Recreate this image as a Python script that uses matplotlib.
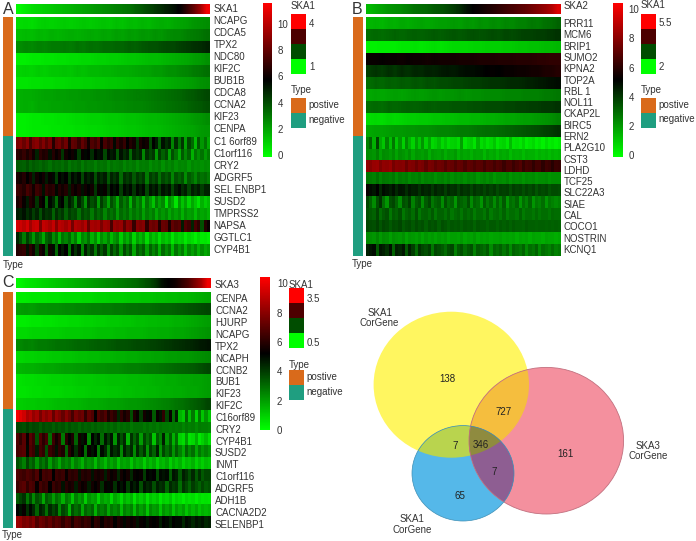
import numpy as np
import matplotlib
matplotlib.use('Agg')
import matplotlib.pyplot as plt
from matplotlib.colors import LinearSegmentedColormap, ListedColormap, Normalize
from matplotlib.cm import ScalarMappable
from matplotlib.patches import Ellipse, Polygon, Rectangle

plt.rcParams['font.family'] = ['Liberation Sans', 'DejaVu Sans']

W, H = 696, 541

# *** Panel A data ***
annot_a = [0.75, 0.85, 0.95, 1.0, 1.05, 1.1, 1.15, 1.2, 1.25, 1.3, 1.35, 1.4, 1.45, 1.5, 1.55,
	1.6, 1.65, 1.7, 1.8, 1.9, 2.0, 2.1, 2.2, 2.3, 2.4, 2.55, 2.85, 3.2, 3.6, 4.2]
genes_a = ['NCAPG', 'CDCA5', 'TPX2', 'NDC80', 'KIF2C', 'BUB1B', 'CDCA8', 'CCNA2', 'KIF23', 'CENPA',
	'C1 6orf89', 'C1orf116', 'CRY2', 'ADGRF5', 'SEL ENBP1', 'SUSD2', 'TMPRSS2', 'NAPSA', 'GGTLC1', 'CYP4B1']
heat_a = [
	[.8, .9, .8, 1.0, 1.1, 1.0, 1.1, 1.2, 1.1, 1.2, 1.3, 1.2, 1.3, 1.4, 1.3, 1.5, 1.4, 1.6, 1.5, 1.7, 1.6, 1.8, 1.9, 1.8, 2.0, 2.1, 2.2, 2.4, 2.5, 2.6],
	[1.5, 1.6, 1.5, 1.7, 1.6, 1.8, 1.7, 1.8, 1.9, 1.8, 1.9, 2.0, 1.9, 2.1, 2.0, 2.2, 2.1, 2.3, 2.2, 2.4, 2.3, 2.5, 2.4, 2.6, 2.7, 2.7, 2.9, 3.0, 3.1, 3.3],
	[2.6, 2.8, 2.7, 2.9, 2.8, 3.0, 3.0, 3.1, 3.0, 3.2, 3.1, 3.3, 3.2, 3.4, 3.4, 3.5, 3.5, 3.7, 3.6, 3.8, 3.9, 3.9, 4.1, 4.2, 4.2, 4.4, 4.5, 4.7, 4.8, 5.0],
	[.4, .4, .5, .5, .6, .6, .7, .7, .8, .8, .9, .9, 1.0, 1.0, 1.1, 1.1, 1.2, 1.3, 1.3, 1.4, 1.5, 1.5, 1.6, 1.7, 1.8, 1.9, 2.0, 2.2, 2.3, 2.5],
	[1.0, 1.1, 1.0, 1.2, 1.1, 1.3, 1.3, 1.4, 1.3, 1.5, 1.4, 1.6, 1.6, 1.7, 1.7, 1.8, 1.9, 1.9, 2.0, 2.1, 2.1, 2.3, 2.3, 2.5, 2.5, 2.7, 2.8, 3.0, 3.1, 3.3],
	[.6, .6, .7, .7, .8, .8, .9, .9, 1.0, 1.0, 1.1, 1.1, 1.2, 1.2, 1.3, 1.3, 1.4, 1.5, 1.5, 1.6, 1.7, 1.7, 1.8, 1.9, 2.0, 2.1, 2.2, 2.3, 2.5, 2.6],
	[1.8, 1.9, 1.9, 2.0, 2.1, 2.1, 2.2, 2.2, 2.3, 2.3, 2.4, 2.4, 2.5, 2.5, 2.6, 2.7, 2.7, 2.8, 2.9, 2.9, 3.0, 3.1, 3.2, 3.3, 3.4, 3.5, 3.7, 3.8, 4.0, 4.2],
	[1.8, 1.9, 1.8, 2.0, 2.0, 2.1, 2.1, 2.2, 2.2, 2.3, 2.3, 2.4, 2.4, 2.5, 2.5, 2.6, 2.6, 2.7, 2.8, 2.8, 2.9, 3.0, 3.1, 3.2, 3.3, 3.4, 3.5, 3.7, 3.8, 4.0],
	[.4, .4, .5, .5, .6, .6, .7, .7, .8, .9, .9, 1.0, 1.0, 1.1, 1.2, 1.2, 1.3, 1.4, 1.4, 1.5, 1.6, 1.6, 1.7, 1.8, 1.9, 2.0, 2.1, 2.3, 2.4, 2.6],
	[.4, .4, .5, .5, .5, .6, .6, .7, .7, .8, .8, .9, .9, 1.0, 1.1, 1.1, 1.2, 1.3, 1.3, 1.4, 1.5, 1.5, 1.6, 1.7, 1.8, 1.9, 2.0, 2.1, 2.3, 2.4],
	[8.6, 8.8, 8.2, 8.9, 7.4, 8.6, 8.9, 8.0, 8.7, 7.8, 8.5, 6.6, 8.2, 8.4, 7.6, 8.3, 6.4, 8.0, 7.8, 7.0, 8.0, 7.4, 6.2, 7.6, 7.2, 7.8, 6.0, 7.4, 6.8, 7.2, 5.6, 7.0, 6.4, 7.0, 5.8, 6.6, 6.2, 4.6, 6.4, 6.0, 6.2, 4.2, 5.8, 5.2, 3.6, 5.4, 4.8, 5.2, 2.8, 4.8, 3.2, 4.6, 2.2, 4.2, 3.4, 1.6, 3.8, 2.4, 3.2, 2.0],
	[6.8, 6.6, 7.0, 6.4, 6.9, 6.2, 5.0, 6.8, 6.4, 6.6, 5.4, 6.6, 6.0, 6.4, 4.6, 6.2, 5.8, 6.2, 5.6, 4.4, 6.0, 5.6, 5.8, 4.8, 5.8, 5.4, 5.6, 4.2, 5.6, 5.2, 5.4, 3.8, 5.4, 4.8, 5.2, 3.4, 5.0, 4.6, 5.0, 2.8, 4.8, 4.2, 4.6, 2.4, 4.4, 3.6, 4.2, 2.2, 4.0, 3.2, 2.0, 3.8, 2.8, 3.6, 1.8, 3.2, 2.6, 3.2, 2.4, 3.0],
	[3.8, 3.7, 3.6, 3.9, 3.5, 3.8, 3.6, 3.4, 3.7, 3.5, 3.2, 3.6, 3.4, 3.5, 3.3, 3.6, 3.1, 3.4, 3.3, 3.5, 3.0, 3.4, 3.2, 3.3, 2.9, 3.3, 3.1, 3.2, 2.8, 3.2, 3.0, 3.1, 3.2, 2.8, 3.1, 2.9, 3.1, 2.7, 3.0, 2.9, 3.0, 2.6, 2.9, 2.8, 3.0, 2.5, 2.9, 2.7, 2.9, 2.5, 2.8, 2.7, 2.8, 2.4, 2.8, 2.6, 2.7, 2.5, 2.7, 2.6],
	[6.4, 6.2, 6.6, 5.8, 6.4, 5.0, 6.2, 5.8, 6.2, 5.2, 6.0, 5.6, 4.4, 5.8, 5.4, 5.8, 4.6, 5.6, 5.2, 5.6, 4.2, 5.4, 5.0, 5.4, 4.0, 5.2, 4.8, 5.2, 3.8, 5.0, 4.6, 5.0, 3.4, 4.8, 4.4, 4.8, 3.8, 4.6, 4.2, 4.6, 3.0, 4.4, 4.0, 4.4, 3.2, 4.2, 3.8, 4.2, 2.8, 4.0, 3.6, 4.0, 2.6, 3.8, 3.4, 2.8, 3.6, 3.2, 3.4, 3.0],
	[7.2, 7.0, 6.6, 7.4, 7.0, 6.2, 7.2, 6.8, 5.4, 7.0, 6.6, 6.8, 5.6, 6.6, 6.2, 6.6, 5.2, 6.4, 6.0, 6.4, 5.4, 6.2, 5.8, 6.2, 4.6, 6.0, 5.6, 6.0, 4.8, 5.8, 5.4, 5.8, 4.4, 5.6, 5.2, 5.6, 4.6, 5.6, 5.2, 5.6, 4.2, 5.4, 5.0, 5.4, 4.4, 5.4, 5.0, 5.4, 4.2, 5.2, 5.6, 4.8, 5.2, 4.2, 5.2, 4.8, 5.2, 4.4, 5.0, 5.0],
	[6.4, 6.8, 6.0, 5.2, 6.6, 6.2, 4.6, 6.2, 5.8, 3.6, 5.6, 5.0, 3.4, 5.4, 5.8, 4.0, 5.2, 4.6, 3.0, 5.0, 4.2, 2.6, 4.8, 4.0, 4.4, 2.4, 4.4, 3.6, 2.2, 4.0, 3.4, 2.0, 3.8, 3.0, 3.6, 1.8, 3.6, 2.6, 3.2, 1.6, 3.2, 2.4, 1.4, 3.0, 2.2, 2.8, .8, 2.6, 2.0, .6, 2.4, 1.4, 2.2, 1.0, 2.0, 1.4, .7, 1.8, 1.2, 1.6],
	[5.2, 5.0, 5.4, 4.8, 5.2, 4.4, 5.0, 4.0, 5.0, 4.6, 4.8, 3.6, 4.8, 4.2, 4.6, 3.6, 4.4, 4.0, 4.2, 3.2, 4.2, 3.8, 4.0, 3.0, 3.9, 3.4, 3.8, 2.8, 3.6, 3.2, 3.6, 2.4, 3.4, 3.0, 3.4, 2.6, 3.2, 2.8, 3.2, 2.2, 3.0, 2.6, 3.0, 2.0, 2.8, 2.4, 2.8, 2.0, 2.6, 2.2, 2.6, 1.8, 2.6, 2.2, 2.4, 1.6, 2.4, 2.0, 2.2, 1.8],
	[10.6, 10.4, 10.0, 10.6, 9.4, 10.2, 10.4, 8.6, 10.2, 10.0, 9.6, 10.2, 8.8, 10.0, 9.8, 9.4, 10.0, 8.4, 9.8, 9.6, 9.2, 9.8, 8.2, 9.6, 9.4, 9.6, 8.6, 9.4, 9.2, 7.4, 9.2, 9.0, 9.2, 7.8, 9.0, 8.8, 7.0, 8.8, 8.6, 8.8, 6.8, 8.4, 8.2, 8.4, 6.6, 8.2, 8.0, 6.4, 8.0, 7.6, 7.8, 5.2, 7.6, 7.2, 5.0, 7.4, 6.8, 4.0, 6.6, 6.0],
	[5.0, 4.2, 3.0, 4.4, 3.6, 2.4, 3.8, 3.2, 2.0, 3.6, 4.0, 2.6, 3.4, 1.8, 3.2, 2.8, 3.4, 2.2, 3.0, 1.4, 2.8, 2.4, 3.2, 1.8, 2.6, 1.2, 2.6, 2.0, 2.8, 1.6, 2.4, 2.8, 1.2, 2.4, 1.8, 2.6, 1.0, 2.2, 1.6, 2.2, .8, 2.0, 1.4, 1.8, .8, 1.6, 1.2, 1.6, .6, 1.4, 1.0, 1.2, .5, 1.0, .8, .4, .9, .5, .6, .4],
	[6.6, 6.8, 7.0, 5.4, 6.8, 6.2, 4.4, 6.4, 6.0, 3.8, 6.2, 5.6, 3.4, 5.8, 5.2, 5.8, 3.2, 5.6, 4.6, 5.4, 2.8, 5.2, 4.0, 4.8, 3.0, 4.8, 3.8, 4.6, 2.6, 4.4, 3.4, 4.2, 2.4, 4.2, 3.2, 4.0, 2.0, 3.8, 3.2, 3.8, 2.2, 3.6, 2.8, 3.4, 1.8, 3.4, 2.6, 3.2, 1.6, 3.2, 2.4, 3.0, 1.6, 2.8, 2.2, 2.8, 1.8, 2.6, 2.0, 2.4],
]

# *** Panel B data ***
annot_b = [2.2, 2.3, 2.4, 2.5, 2.55, 2.6, 2.7, 2.8, 2.85, 2.9, 3.0, 3.05, 3.15, 3.25, 3.4, 3.6,
	3.75, 3.85, 3.95, 4.05, 4.15, 4.25, 4.35, 4.45, 4.55, 4.7, 4.85, 5.0, 5.2, 5.6]
genes_b = ['PRR11', 'MCM6', 'BRIP1', 'SUMO2', 'KPNA2', 'TOP2A', 'RBL 1', 'NOL11', 'CKAP2L', 'BIRC5', 'ERN2',
	'PLA2G10', 'CST3', 'LDHD', 'TCF25', 'SLC22A3', 'SIAE', 'CAL', 'COCO1', 'NOSTRIN', 'KCNQ1']
heat_b = [
	[1.5, 1.6, 1.5, 1.7, 1.6, 1.8, 1.7, 1.8, 1.9, 1.8, 1.9, 2.0, 2.0, 2.1, 2.0, 2.2, 2.1, 2.3, 2.2, 2.4, 2.3, 2.5, 2.4, 2.6, 2.6, 2.8, 2.7, 2.9, 3.0, 3.2],
	[3.0, 3.1, 3.0, 3.1, 3.2, 3.1, 3.2, 3.3, 3.2, 3.3, 3.4, 3.3, 3.4, 3.5, 3.4, 3.5, 3.6, 3.5, 3.6, 3.7, 3.6, 3.8, 3.7, 3.8, 3.9, 3.9, 4.0, 4.0, 4.1, 4.2],
	[.3, .3, .4, .4, .4, .5, .5, .6, .5, .6, .7, .6, .7, .8, .8, .8, .9, .9, 1.0, 1.0, 1.0, 1.1, 1.1, 1.2, 1.2, 1.3, 1.3, 1.4, 1.4, 1.5],
	[5.4, 5.4, 5.3, 5.4, 5.4, 5.5, 5.4, 5.5, 5.5, 5.6, 5.5, 5.6, 5.6, 5.6, 5.7, 5.7, 5.7, 5.8, 5.8, 5.8, 5.9, 5.9, 5.9, 6.0, 6.0, 6.0, 6.1, 6.1, 6.2, 6.2],
	[4.0, 4.2, 4.0, 4.3, 4.1, 4.4, 4.2, 4.5, 4.4, 4.6, 4.5, 4.7, 4.8, 4.7, 4.9, 5.0, 5.0, 5.1, 5.2, 5.3, 5.2, 5.4, 5.4, 5.5, 5.5, 5.6, 5.6, 5.8, 5.8, 6.0],
	[3.0, 3.2, 3.1, 3.3, 3.2, 3.4, 3.3, 3.5, 3.4, 3.6, 3.5, 3.7, 3.7, 3.8, 3.8, 3.9, 4.0, 4.0, 4.1, 4.2, 4.2, 4.3, 4.4, 4.4, 4.5, 4.6, 4.7, 4.8, 4.9, 5.0],
	[1.8, 1.9, 1.8, 1.9, 2.0, 1.9, 2.0, 2.1, 2.0, 2.1, 2.2, 2.1, 2.2, 2.2, 2.3, 2.2, 2.3, 2.3, 2.4, 2.4, 2.4, 2.5, 2.5, 2.5, 2.6, 2.6, 2.6, 2.7, 2.7, 2.8],
	[3.0, 3.1, 3.0, 3.2, 3.1, 3.2, 3.3, 3.2, 3.3, 3.4, 3.3, 3.4, 3.4, 3.5, 3.5, 3.5, 3.6, 3.6, 3.7, 3.7, 3.7, 3.8, 3.8, 3.9, 3.9, 4.0, 4.0, 4.1, 4.1, 4.2],
	[.7, .8, .7, .9, .8, .9, 1.0, 1.0, 1.1, 1.1, 1.2, 1.2, 1.3, 1.3, 1.4, 1.4, 1.5, 1.5, 1.6, 1.6, 1.7, 1.8, 1.8, 1.9, 2.0, 2.0, 2.1, 2.2, 2.3, 2.5],
	[1.8, 1.9, 1.9, 2.0, 2.1, 2.1, 2.2, 2.2, 2.3, 2.3, 2.4, 2.5, 2.5, 2.6, 2.7, 2.7, 2.8, 2.9, 3.0, 3.0, 3.1, 3.2, 3.3, 3.4, 3.5, 3.6, 3.7, 3.9, 4.0, 4.2],
	[2.6, 3.2, 1.6, 3.8, 1.8, 1.2, 2.6, 1.4, 2.8, 1.2, 2.2, 1.0, 2.4, 1.6, .9, 2.0, 1.2, 2.2, 1.0, 1.8, .8, 1.0, 1.4, .8, 1.2, .7, .9, 1.0, .7, 2.0, .6, .9, 1.1, .6, 1.6, .7, 1.0, .6, .8, 1.2, .5, .8, .9, .5, 1.4, .6, .7, .5, .9, .4, .6, .8, .4, .6, .3, .7, .4, .5, .3, .5],
	[2.4, 2.3, 2.2, 2.6, 2.0, 2.4, 2.3, 2.1, 2.4, 1.9, 2.3, 2.2, 2.0, 2.3, 1.8, 2.2, 2.1, 2.0, 2.2, 1.7, 2.1, 2.0, 1.9, 2.1, 1.7, 2.0, 1.9, 2.1, 1.6, 2.0, 1.8, 1.9, 1.6, 1.9, 1.8, 1.9, 1.5, 1.9, 1.7, 1.8, 1.5, 1.8, 1.7, 1.8, 1.4, 1.7, 1.6, 1.7, 1.4, 1.7, 1.6, 1.6, 1.4, 1.6, 1.5, 1.6, 1.4, 1.6, 1.5, 1.6],
	[8.2, 8.0, 8.3, 8.4, 7.8, 8.2, 8.1, 8.3, 7.6, 8.0, 7.9, 8.0, 7.4, 7.9, 7.8, 7.4, 7.8, 7.7, 7.2, 7.7, 7.6, 7.2, 7.5, 7.4, 7.0, 7.4, 7.3, 6.9, 7.3, 7.2, 6.8, 7.2, 7.1, 6.8, 7.1, 7.0, 6.6, 7.0, 6.9, 6.6, 6.9, 6.8, 6.4, 6.8, 6.8, 6.4, 6.7, 6.9, 6.3, 6.7, 6.6, 6.2, 6.6, 6.6, 6.1, 6.5, 6.4, 6.0, 6.4, 6.3],
	[2.8, 2.7, 2.6, 2.9, 2.5, 2.8, 2.7, 2.6, 2.8, 2.4, 2.7, 2.6, 2.7, 2.4, 2.6, 2.5, 2.7, 2.4, 2.6, 2.5, 2.6, 2.3, 2.5, 2.6, 2.4, 2.6, 2.3, 2.5, 2.4, 2.5, 2.3, 2.5, 2.4, 2.5, 2.2, 2.4, 2.5, 2.3, 2.5, 2.2, 2.4, 2.4, 2.3, 2.5, 2.2, 2.4, 2.3, 2.4, 2.2, 2.4, 2.3, 2.4, 2.2, 2.3, 2.3, 2.4, 2.2, 2.3, 2.3, 2.3],
	[5.4, 5.0, 4.8, 5.2, 4.4, 5.0, 4.8, 4.6, 4.9, 4.4, 4.8, 4.7, 4.3, 4.7, 4.5, 4.6, 4.2, 4.6, 4.4, 4.5, 4.1, 4.5, 4.3, 4.4, 4.0, 4.4, 4.2, 4.3, 3.9, 4.3, 4.1, 4.2, 3.8, 4.2, 4.0, 4.1, 3.8, 4.1, 3.9, 4.1, 3.7, 4.0, 3.9, 4.0, 3.6, 4.0, 3.8, 3.9, 3.6, 3.9, 3.7, 3.9, 3.5, 3.8, 3.7, 3.8, 3.5, 3.7, 3.7, 3.6],
	[3.8, 3.2, 2.4, 3.6, 4.2, 3.0, 2.2, 3.6, 3.8, 3.2, 2.4, 3.6, 3.4, 4.0, 2.6, 3.4, 3.6, 2.4, 3.4, 3.8, 2.8, 3.2, 3.4, 2.4, 3.6, 3.0, 3.2, 2.2, 3.4, 3.2, 3.0, 3.6, 2.4, 3.2, 3.0, 2.2, 3.4, 2.8, 3.2, 2.4, 3.2, 2.6, 3.4, 2.2, 3.0, 2.8, 3.2, 2.2, 3.0, 2.6, 3.2, 2.2, 2.8, 2.6, 3.0, 2.2, 2.8, 2.6, 2.4, 2.6],
	[3.6, 3.4, 3.2, 3.8, 3.0, 3.4, 3.6, 2.8, 3.4, 3.2, 3.6, 2.8, 3.2, 3.4, 3.0, 3.6, 2.8, 3.2, 3.3, 3.0, 3.4, 2.8, 3.2, 3.2, 2.9, 3.3, 2.8, 3.1, 3.2, 2.8, 3.2, 3.0, 3.2, 2.7, 3.1, 3.1, 2.8, 3.3, 2.7, 3.0, 3.1, 2.8, 3.2, 2.7, 3.0, 3.0, 2.8, 3.2, 2.7, 3.0, 3.0, 2.8, 3.1, 2.8, 3.0, 3.0, 2.8, 3.1, 3.0, 3.0],
	[3.8, 3.7, 3.6, 3.9, 3.5, 3.8, 3.7, 3.4, 3.7, 3.6, 3.8, 3.4, 3.6, 3.7, 3.4, 3.7, 3.5, 3.6, 3.3, 3.6, 3.5, 3.6, 3.3, 3.6, 3.5, 3.3, 3.5, 3.4, 3.5, 3.3, 3.5, 3.4, 3.5, 3.2, 3.5, 3.4, 3.4, 3.2, 3.4, 3.4, 3.2, 3.4, 3.3, 3.4, 3.2, 3.4, 3.3, 3.3, 3.2, 3.4, 3.3, 3.3, 3.2, 3.3, 3.3, 3.2, 3.3, 3.2, 3.3, 3.2],
	[2.4, 2.3, 2.2, 2.5, 2.1, 2.4, 2.3, 2.0, 2.3, 2.2, 2.1, 2.3, 1.9, 2.2, 2.1, 2.0, 2.2, 1.9, 2.2, 2.0, 2.1, 1.9, 2.1, 2.0, 2.1, 1.8, 2.0, 2.0, 1.9, 2.1, 1.8, 2.0, 1.9, 2.1, 1.8, 2.0, 1.9, 2.0, 1.8, 1.9, 1.9, 2.0, 1.8, 1.9, 1.8, 1.9, 1.7, 1.9, 1.8, 1.9, 1.7, 1.9, 1.8, 1.8, 1.7, 1.9, 1.8, 1.8, 1.7, 1.8],
	[4.6, 4.8, 5.0, 3.4, 4.8, 4.6, 4.2, 4.9, 3.2, 4.6, 4.4, 4.8, 3.4, 4.6, 4.0, 3.0, 4.2, 3.8, 3.6, 4.0, 2.8, 3.8, 3.6, 3.4, 3.0, 3.6, 3.8, 2.6, 3.4, 3.6, 3.0, 3.4, 3.6, 2.6, 3.4, 3.2, 3.0, 3.4, 2.4, 3.2, 3.0, 3.3, 2.8, 3.2, 2.4, 3.2, 3.0, 2.8, 3.2, 2.4, 3.0, 2.8, 3.2, 2.4, 3.0, 2.8, 2.6, 3.0, 2.6, 2.8],
]

# *** Panel C data ***
annot_c = [.35, .45, .5, .55, .6, .65, .7, .75, .8, .85, .9, .95, 1.0, 1.05, 1.1, 1.15,
	1.2, 1.25, 1.3, 1.4, 1.5, 1.65, 1.9, 2.0, 2.1, 2.3, 2.5, 2.8, 3.1, 3.6]
genes_c = ['CENPA', 'CCNA2', 'HJURP', 'NCAPG', 'TPX2', 'NCAPH', 'CCNB2', 'BUB1', 'KIF23', 'KIF2C',
	'C16orf89', 'CRY2', 'CYP4B1', 'SUSD2', 'INMT', 'C1orf116', 'ADGRF5', 'ADH1B', 'CACNA2D2', 'SELENBP1']
heat_c = [
	[.4, .4, .5, .5, .5, .6, .6, .7, .7, .7, .8, .8, .9, .9, 1.0, 1.0, 1.0, 1.1, 1.1, 1.2, 1.2, 1.3, 1.3, 1.4, 1.4, 1.5, 1.5, 1.6, 1.7, 1.8],
	[2.0, 2.1, 2.0, 2.2, 2.2, 2.3, 2.3, 2.4, 2.4, 2.5, 2.5, 2.6, 2.6, 2.7, 2.7, 2.8, 2.8, 2.9, 2.9, 3.0, 3.0, 3.1, 3.2, 3.2, 3.3, 3.4, 3.5, 3.6, 3.7, 3.8],
	[.4, .4, .5, .5, .6, .6, .7, .7, .8, .8, .9, .9, 1.0, 1.0, 1.1, 1.1, 1.2, 1.2, 1.3, 1.3, 1.4, 1.4, 1.5, 1.5, 1.6, 1.6, 1.7, 1.8, 1.9, 2.0],
	[.8, .8, .9, .9, .9, 1.0, 1.0, 1.1, 1.1, 1.1, 1.2, 1.2, 1.3, 1.3, 1.3, 1.4, 1.4, 1.5, 1.5, 1.5, 1.6, 1.6, 1.7, 1.7, 1.8, 1.8, 1.9, 2.0, 2.1, 2.2],
	[2.4, 2.6, 2.5, 2.7, 2.7, 2.8, 2.9, 2.9, 3.0, 3.1, 3.1, 3.2, 3.3, 3.3, 3.4, 3.5, 3.5, 3.6, 3.7, 3.7, 3.8, 3.9, 4.0, 4.1, 4.2, 4.3, 4.4, 4.5, 4.7, 4.8],
	[.8, .9, .9, 1.0, 1.0, 1.1, 1.1, 1.2, 1.2, 1.3, 1.3, 1.4, 1.4, 1.5, 1.5, 1.6, 1.6, 1.7, 1.7, 1.8, 1.8, 1.9, 1.9, 2.0, 2.0, 2.1, 2.1, 2.2, 2.3, 2.4],
	[1.5, 1.6, 1.6, 1.7, 1.8, 1.8, 1.9, 2.0, 2.0, 2.1, 2.1, 2.2, 2.3, 2.3, 2.4, 2.4, 2.5, 2.6, 2.6, 2.7, 2.8, 2.8, 2.9, 3.0, 3.1, 3.2, 3.3, 3.4, 3.6, 3.8],
	[.6, .7, .7, .8, .8, .9, .9, 1.0, 1.0, 1.1, 1.1, 1.1, 1.2, 1.2, 1.3, 1.3, 1.3, 1.4, 1.4, 1.5, 1.5, 1.6, 1.6, 1.7, 1.7, 1.8, 1.8, 1.9, 1.9, 2.0],
	[.6, .6, .7, .7, .8, .8, .8, .9, .9, 1.0, 1.0, 1.1, 1.1, 1.1, 1.2, 1.2, 1.3, 1.3, 1.4, 1.4, 1.5, 1.5, 1.6, 1.6, 1.7, 1.7, 1.8, 1.8, 1.9, 2.0],
	[1.0, 1.1, 1.1, 1.2, 1.2, 1.3, 1.4, 1.4, 1.5, 1.5, 1.6, 1.7, 1.7, 1.8, 1.9, 1.9, 2.0, 2.1, 2.1, 2.2, 2.3, 2.4, 2.5, 2.6, 2.8, 2.9, 3.1, 3.3, 3.5, 3.8],
	[10.2, 9.8, 9.4, 8.6, 8.9, 8.2, 8.6, 7.6, 8.4, 8.0, 8.4, 7.2, 8.2, 7.8, 7.2, 8.0, 7.4, 6.6, 7.6, 7.2, 7.4, 6.2, 7.2, 6.8, 5.2, 6.8, 6.4, 6.8, 5.8, 6.4, 6.0, 4.4, 6.2, 5.6, 6.0, 3.6, 5.8, 5.4, 4.0, 5.6, 5.0, 5.4, 3.4, 5.4, 4.8, 6.2, 3.8, 5.4, 3.0, 4.6, 1.6, 1.2, 3.2, 1.4, 2.8, 1.0, 2.8, 1.2, 2.2, 1.2],
	[3.8, 3.7, 3.6, 3.9, 3.6, 3.8, 3.7, 3.4, 3.7, 3.5, 3.6, 3.3, 3.6, 3.4, 3.5, 3.2, 3.5, 3.3, 3.4, 3.1, 3.4, 3.2, 3.3, 3.1, 3.3, 3.1, 3.2, 3.0, 3.2, 3.0, 3.2, 2.9, 3.1, 3.0, 3.1, 2.8, 3.0, 3.0, 3.0, 2.8, 3.0, 2.8, 2.9, 2.7, 2.9, 2.8, 2.8, 2.7, 2.8, 2.7, 2.8, 2.5, 2.8, 2.6, 2.7, 2.4, 2.7, 2.6, 2.6, 2.5],
	[6.8, 6.2, 7.0, 5.4, 7.0, 6.4, 3.6, 6.8, 6.0, 6.6, 3.0, 6.4, 5.6, 6.2, 2.8, 6.0, 5.2, 5.8, 3.2, 5.6, 4.8, 5.4, 2.4, 5.2, 4.4, 5.0, 3.0, 4.8, 4.0, 4.8, 2.2, 4.6, 3.6, 4.4, 1.6, 4.2, 3.2, 4.0, 2.0, 3.8, 3.0, 3.6, 1.2, 3.4, 2.6, 4.6, 2.2, 3.4, 1.6, 3.0, 1.0, .7, 2.0, .6, .8, 1.6, .5, .9, 1.4, .7],
	[6.6, 6.8, 7.0, 5.0, 6.8, 6.4, 4.6, 6.6, 6.2, 3.6, 6.4, 6.0, 4.8, 6.2, 5.8, 3.2, 6.0, 5.4, 4.2, 5.6, 5.2, 3.0, 5.4, 4.8, 5.2, 2.6, 5.0, 4.4, 2.8, 4.8, 4.2, 4.6, 2.4, 4.6, 3.8, 4.4, 2.4, 4.4, 3.4, 4.2, 2.2, 4.0, 3.2, 4.6, 2.2, 3.8, 3.0, 3.6, 2.2, 3.4, 2.6, 1.8, 3.2, 2.4, 3.0, 1.8, 2.8, 2.2, 2.6, 2.2],
	[3.6, 3.2, 2.6, 3.8, 3.0, 3.4, 2.2, 3.2, 2.8, 3.4, 2.0, 3.0, 2.6, 1.8, 2.8, 2.4, 2.8, 1.8, 2.6, 2.2, 1.6, 2.6, 2.2, 2.4, 1.4, 2.4, 2.0, 1.4, 2.2, 1.8, 2.2, 1.2, 2.0, 1.8, 2.0, 1.2, 2.0, 1.6, 1.8, 1.0, 1.8, 1.4, 1.8, 1.0, 1.6, 1.4, 1.8, 1.0, 1.6, 1.2, 1.6, .9, 1.4, 1.2, 1.6, .9, 1.4, 1.0, 1.4, 1.2],
	[6.8, 6.6, 6.4, 6.8, 6.6, 6.2, 6.8, 5.4, 6.6, 6.4, 6.6, 5.2, 6.4, 6.2, 6.4, 5.4, 6.2, 6.0, 6.2, 4.8, 6.0, 5.8, 6.0, 4.8, 5.8, 5.6, 5.8, 4.6, 5.8, 5.4, 5.6, 4.4, 5.6, 5.2, 5.6, 4.4, 5.4, 5.2, 5.4, 4.0, 5.2, 5.0, 5.2, 3.8, 5.0, 4.8, 5.0, 3.4, 4.8, 4.6, 3.4, 4.6, 4.2, 3.6, 4.4, 3.4, 4.2, 3.4, 3.8, 3.8],
	[6.4, 6.8, 7.0, 6.2, 6.8, 6.6, 5.4, 6.6, 6.2, 6.4, 5.2, 6.4, 6.0, 6.2, 4.8, 6.0, 5.6, 5.8, 4.6, 5.8, 5.4, 5.6, 4.6, 5.6, 5.2, 5.6, 4.2, 5.4, 5.0, 5.4, 4.2, 5.2, 4.8, 5.2, 4.0, 5.0, 4.6, 5.0, 3.6, 4.8, 4.4, 4.6, 3.6, 4.6, 4.2, 4.4, 3.2, 4.4, 4.0, 4.2, 3.0, 4.2, 3.8, 3.2, 4.0, 3.6, 3.2, 3.8, 3.4, 3.6],
	[3.4, 3.8, 4.2, 2.8, 3.8, 2.4, 3.6, 3.2, 1.8, 3.4, 3.0, 2.0, 3.0, 2.6, 1.6, 2.8, 2.4, 1.2, 2.6, 2.0, 2.4, 1.0, 2.2, 1.8, 2.0, .9, 2.0, 1.6, 1.8, .8, 1.8, 1.4, .7, 1.6, 1.2, 1.6, .6, 1.4, 1.0, 1.4, .6, 1.2, .9, 1.2, .5, 1.0, .8, 1.2, .5, .9, .7, .4, .8, .6, .7, .4, .7, .5, .6, .5],
	[5.2, 4.8, 5.4, 4.2, 5.0, 4.4, 3.2, 4.6, 4.2, 3.0, 4.4, 3.8, 4.2, 2.4, 3.8, 3.4, 1.6, 3.6, 3.0, 3.4, 1.8, 3.2, 2.8, 3.2, 1.6, 3.0, 2.6, 3.0, 1.8, 2.8, 2.4, 2.8, 1.4, 2.6, 2.2, 2.6, 1.4, 2.6, 2.0, 2.4, 1.2, 2.4, 2.0, 2.2, 1.2, 2.2, 1.8, 2.2, 1.2, 2.0, 1.6, 2.0, 1.2, 1.8, 1.4, 1.8, 1.2, 1.6, 1.4, 1.6],
	[8.4, 8.2, 7.6, 7.8, 7.4, 7.8, 6.8, 7.4, 7.2, 6.8, 7.2, 6.6, 7.0, 6.8, 6.2, 6.8, 6.6, 5.8, 6.6, 6.4, 6.0, 6.4, 6.2, 5.4, 6.2, 6.0, 5.4, 6.0, 5.8, 6.0, 5.2, 5.8, 5.6, 5.0, 5.6, 5.4, 5.6, 4.8, 5.4, 5.2, 4.8, 5.4, 5.2, 5.4, 4.6, 5.2, 5.0, 4.6, 5.2, 5.0, 5.0, 4.4, 5.0, 4.8, 4.4, 4.8, 4.6, 4.8, 4.4, 4.6],
]

type_rows = [0] * 10 + [1] * 10
type_names = ['postive', 'negative']

# Venn region counts and set names.
venn_counts = [138, 727, 161, 7, 346, 7, 65]
venn_names = ['SKA1\nCorGene', 'SKA3\nCorGene', 'SKA1\nCorGene']

# *** Colours ***
heatCmap = LinearSegmentedColormap.from_list('gbr', ['#00ff00', '#000000', '#ff0000'])
typeColors = ['#d96a1b', '#1f9e80']
legendColors = ['#ff0000', '#4d0000', '#004d00', '#00ff00']
textColor = '#333333'

fig = plt.figure(figsize=(W / 100, H / 100), dpi=100)


# Adds an axes given pixel edges of the picture, y measured from the top.
def pixelAxes(x0, y0, x1, y1):
	ax = fig.add_axes([x0 / W, 1 - y1 / H, (x1 - x0) / W, (y1 - y0) / H])
	ax.set_xticks([])
	ax.set_yticks([])
	for spine in ax.spines.values():
		spine.set_visible(False)
	return ax


# Overlay in picture pixels for legends, letters and the venn diagram.
overlay = pixelAxes(0, 0, W, H)
overlay.set_xlim(0, W)
overlay.set_ylim(H, 0)
overlay.patch.set_alpha(0)
overlay.set_zorder(5)


def label(x, y, text, size=7, ha='left', va='center', **kw):
	overlay.text(x, y, text, fontsize=size, ha=ha, va=va, color=textColor, **kw)


# Draws one heatmap panel with its annotation, type bar, colour bar and legend.
def drawPanel(p, heat, annot, genes, annotName):
	x0, x1 = p['heat_x']
	yTop, yBottom = p['heat_y']

	# Every row is its own image: the smooth rows are read more coarsely than the striped ones.
	ax = pixelAxes(x0, yTop, x1, yBottom)
	norm = Normalize(0, p['vmax'])
	for i, row in enumerate(heat):
		style = 'bilinear' if type_rows[i] == 0 else 'nearest'
		ax.imshow(np.array([row]), cmap=heatCmap, norm=norm, aspect='auto', interpolation=style,
			extent=(0, 1, i + 1, i))
	ax.set_xlim(0, 1)
	ax.set_ylim(len(heat), 0)

	annotAx = pixelAxes(x0, p['annot_y'][0], x1, p['annot_y'][1])
	annotAx.imshow(np.array([annot]), cmap=heatCmap, norm=Normalize(*p['annot_norm']), aspect='auto', interpolation='bilinear')

	typeAx = pixelAxes(p['type_x'][0], yTop, p['type_x'][1], yBottom)
	typeAx.imshow(np.array(type_rows).reshape(-1, 1), cmap=ListedColormap(typeColors), aspect='auto', interpolation='nearest')

	# Gene labels are spaced on their own, they do not always line up with the rows.
	for y, gene in zip(np.linspace(p['label_y'][0], p['label_y'][1], len(genes)), genes):
		label(p['label_x'], y, gene)
	label(p['label_x'], p['annot_label_y'], annotName)

	# Colour bar.
	cax = pixelAxes(p['cbar_x'][0], p['cbar_y'][0], p['cbar_x'][1], p['cbar_y'][1])
	mappable = ScalarMappable(Normalize(p['cbar_min'], p['vmax']), heatCmap)
	cbar = fig.colorbar(mappable, cax=cax, ticks=[0, 2, 4, 6, 8, 10])
	cbar.outline.set_visible(False)
	cbar.ax.tick_params(length=0, labelsize=7, labelcolor=textColor, pad=p['cbar_pad'])

	# SKA legend.
	lx, ly = p['legend_xy']
	label(lx, p['legend_title_y'], 'SKA1')
	for i, color in enumerate(legendColors):
		overlay.add_patch(Rectangle((lx, ly + i * 15), 14.5, 15, color=color, lw=0))
	label(lx + 18, p['legend_hi_y'], p['legend_hi'])
	label(lx + 18, p['legend_lo_y'], p['legend_lo'])

	# Type legend.
	tx, ty = p['type_legend_xy']
	label(tx, p['type_title_y'], 'Type')
	for i, color in enumerate(typeColors):
		overlay.add_patch(Rectangle((tx, ty + i * 15), 14.5, 15, color=color, lw=0))
		label(tx + 17.5, ty + 7 + i * 15, type_names[i])

	label(p['letter_xy'][0], p['letter_xy'][1], p['letter'], size=11.5, ha='center')
	label(p['type_xy'][0], p['type_xy'][1], 'Type')


panelA = {'letter': 'A', 'letter_xy': (8, 9), 'type_xy': (3, 265), 'heat_x': (16, 210), 'heat_y': (17.3, 256),
	'annot_y': (4.3, 14), 'type_x': (3, 13), 'label_x': 213.5, 'label_y': (21, 250), 'annot_label_y': 9,
	'vmax': 11.6, 'annot_norm': (.7, 4.3), 'cbar_x': (262.7, 272), 'cbar_y': (2.7, 156.7), 'cbar_min': -.1, 'cbar_pad': 4,
	'legend_xy': (291, 14), 'legend_title_y': 6, 'legend_hi': '4', 'legend_hi_y': 24, 'legend_lo': '1', 'legend_lo_y': 67.5,
	'type_legend_xy': (291, 98), 'type_title_y': 90}
panelB = {'letter': 'B', 'letter_xy': (357, 9), 'type_xy': (352, 264), 'heat_x': (366, 561), 'heat_y': (17.3, 256),
	'annot_y': (4.3, 14), 'type_x': (353, 363), 'label_x': 563.5, 'label_y': (24, 250), 'annot_label_y': 5.7,
	'vmax': 10.45, 'annot_norm': (1.6, 5.9), 'cbar_x': (613, 623), 'cbar_y': (2.7, 156.7), 'cbar_min': -.1, 'cbar_pad': 4,
	'legend_xy': (641, 14), 'legend_title_y': 5.5, 'legend_hi': '5.5', 'legend_hi_y': 23, 'legend_lo': '2', 'legend_lo_y': 67.5,
	'type_legend_xy': (641, 97.5), 'type_title_y': 90}
panelC = {'letter': 'C', 'letter_xy': (8, 282.5), 'type_xy': (2, 535), 'heat_x': (15.7, 210), 'heat_y': (291.7, 528.3),
	'annot_y': (278.3, 288.3), 'type_x': (2.7, 12), 'label_x': 215, 'label_y': (299.5, 524.5), 'annot_label_y': 285,
	'vmax': 10.4, 'annot_norm': (.3, 3.7), 'cbar_x': (260, 270), 'cbar_y': (277.3, 430), 'cbar_min': 0, 'cbar_pad': 5,
	'legend_xy': (289, 288), 'legend_title_y': 285, 'legend_hi': '3.5', 'legend_hi_y': 298.5, 'legend_lo': '0.5', 'legend_lo_y': 342.5,
	'type_legend_xy': (289, 370), 'type_title_y': 365}

drawPanel(panelA, heat_a, annot_a, genes_a, 'SKA1')
drawPanel(panelB, heat_b, annot_b, genes_b, 'SKA2')
drawPanel(panelC, heat_c, annot_c, genes_c, 'SKA3')


# *** Venn diagram ***
yellowShape = ((451.3, 384.7), 155.4, 146)
pinkShape = ((546.3, 440.7), 154.6, 146.6)
blueShape = ((463, 473.3), 102, 95.4)

yellow = Ellipse(*yellowShape, color='#fff660', lw=0, zorder=1)
pink = Ellipse(*pinkShape, color='#f4909e', lw=0, zorder=2)
blue = Ellipse(*blueShape, color='#55b8e9', lw=0, zorder=3)
for shape in (yellow, pink, blue):
	overlay.add_patch(shape)

# Overlaps are drawn as clipped copies with the colours seen in the picture.
overlaps = [(pinkShape, yellow, '#f5be3e', 4), (blueShape, yellow, '#b9d44e', 5), (blueShape, pink, '#8e5e92', 5)]
for shape, clipper, color, order in overlaps:
	region = Ellipse(*shape, color=color, lw=0, zorder=order)
	overlay.add_patch(region)
	region.set_clip_path(clipper)


# Points of one ellipse that fall inside two others, for the three way region.
def ellipsePoints(shape):
	angles = np.linspace(0, 2 * np.pi, 720, endpoint=False)
	return np.column_stack([shape[0][0] + shape[1] / 2 * np.cos(angles), shape[0][1] + shape[2] / 2 * np.sin(angles)])


def isInside(points, shape):
	return ((points[:, 0] - shape[0][0]) / (shape[1] / 2)) ** 2 + ((points[:, 1] - shape[0][1]) / (shape[2] / 2)) ** 2 <= 1


shapes = [yellowShape, pinkShape, blueShape]
corner = []
for i, shape in enumerate(shapes):
	others = [s for j, s in enumerate(shapes) if j != i]
	pts = ellipsePoints(shape)
	corner.append(pts[isInside(pts, others[0]) & isInside(pts, others[1])])
corner = np.vstack(corner)
middle = corner.mean(axis=0)
corner = corner[np.argsort(np.arctan2(corner[:, 1] - middle[1], corner[:, 0] - middle[0]))]
overlay.add_patch(Polygon(corner, closed=True, color='#8f8b3f', lw=0, zorder=6))

overlay.add_patch(Ellipse(*pinkShape, fill=False, ec='#c2707f', lw=.6, zorder=7))
overlay.add_patch(Ellipse(*blueShape, fill=False, ec='#3f8fb5', lw=.5, zorder=7))

countPlaces = [(447, 378.5), (504, 412), (565.5, 454), (455.5, 446), (480.5, 444.5), (494, 472), (459.5, 496)]
for (x, y), count in zip(countPlaces, venn_counts):
	overlay.text(x, y, str(count), fontsize=7, ha='center', va='center', color='#222222', zorder=8)

namePlaces = [(379.5, 318), (648, 451), (412.5, 524.5)]
for (x, y), name in zip(namePlaces, venn_names):
	overlay.text(x, y, name, fontsize=7, ha='center', va='center', color=textColor, linespacing=1.1, zorder=8)

fig.savefig('out.png', dpi=100)
